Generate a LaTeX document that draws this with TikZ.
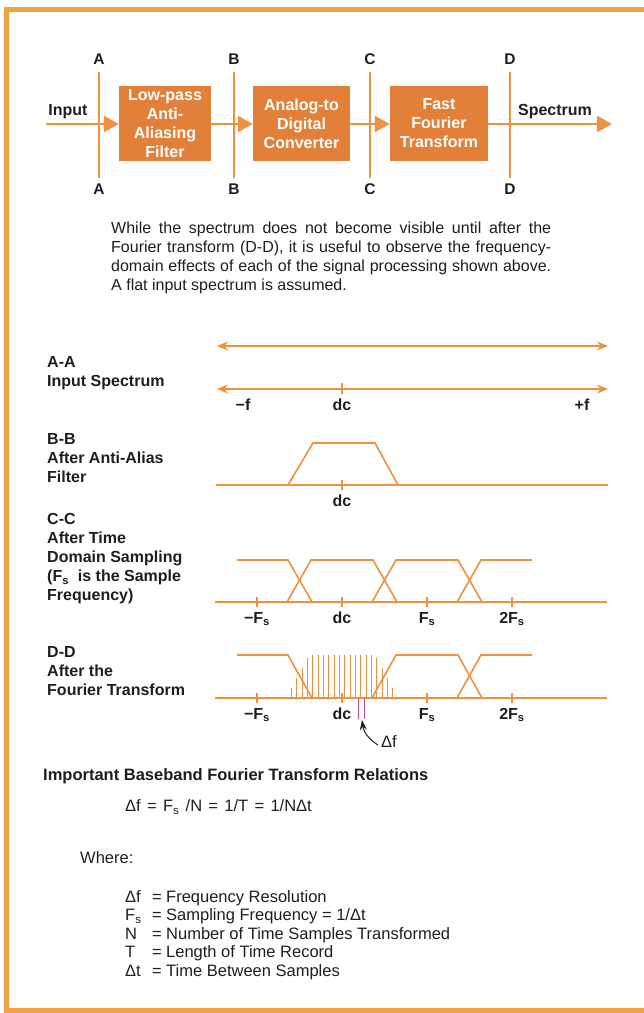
\documentclass[tikz,border=0pt]{standalone}
\usepackage{fontspec}
\setmainfont{Liberation Sans}
\usetikzlibrary{arrows.meta}

\definecolor{boxorange}{HTML}{E2803A}
\definecolor{lineorange}{HTML}{F0913F}
\definecolor{frameorange}{HTML}{F4A044}
\definecolor{ink}{HTML}{1E1E1E}
\definecolor{dfpink}{HTML}{C8507A}

\tikzset{
  block/.style={fill=boxorange, text=white, font=\fontsize{16}{19}\selectfont\bfseries,
    align=center, minimum height=75pt, inner sep=0pt},
  flow/.style={draw=lineorange, line width=2.4pt, -{Triangle[length=15pt,width=16pt]}},
  cut/.style={draw=lineorange, line width=1.2pt},
  cutlbl/.style={text=ink, font=\fontsize{15.5}{16}\selectfont\bfseries, inner sep=0pt, anchor=base},
  lbl/.style={text=ink, font=\fontsize{16}{19}\selectfont\bfseries, inner sep=0pt},
  txt/.style={text=ink, font=\fontsize{16.5}{18.5}\selectfont, inner sep=0pt},
  spec/.style={draw=lineorange, line width=1.6pt},
  axis/.style={draw=lineorange, line width=1.6pt, {Stealth[length=11pt,width=9pt]}-{Stealth[length=11pt,width=9pt]}},
  tickmark/.style={draw=lineorange, line width=1.2pt},
  sample/.style={draw=lineorange, line width=0.8pt},
}

\begin{document}
\begin{tikzpicture}[x=1pt, y=-1pt]
  \useasboundingbox (0,0) rectangle (644,1013);
  \draw[frameorange, line width=5pt] (644,9.5) -- (6,9.5) -- (6,1010.5) -- (644,1010.5);

  % signal chain
  \node[block, minimum width=92pt] (lpf) at (165,123.5) {Low-pass\\Anti-\\Aliasing\\Filter};
  \node[block, minimum width=97pt] (adc) at (301.5,123.5) {Analog-to\\Digital\\Converter};
  \node[block, minimum width=98pt] (fft) at (439,123.5) {Fast\\Fourier\\Transform};
  \coordinate (in) at (46,124);
  \coordinate (out) at (612,124);
  \node[lbl, anchor=base] (inlbl) at (68,115) {Input};
  \node[lbl, anchor=base] (outlbl) at (555,115) {Spectrum};

  \draw[flow] (in) -- (lpf.west |- in);
  \draw[flow] (lpf.east |- in) -- (adc.west |- in);
  \draw[flow] (adc.east |- in) -- (fft.west |- in);
  \draw[flow] (fft.east |- in) -- (out);

  \foreach \n/\x in {A/99, B/234, C/370, D/510} {
    \node[cutlbl] (\n top) at (\x,64) {\n};
    \node[cutlbl] (\n bot) at (\x,194) {\n};
    \draw[cut] (\x,72) -- (\x,178);
  }

  \node[txt, font=\fontsize{16}{19}\selectfont, anchor=north west, text width=440pt, align=justify] (note) at (111,222)
    {While the spectrum does not become visible until after the\linebreak
     Fourier transform (D-D), it is useful to observe the frequency-\linebreak
     domain effects of each of the signal processing shown above.\linebreak
     A flat input spectrum is assumed.};

  % A-A
  \node[lbl, anchor=north west, align=left] (aa) at (47,356.5) {A-A\\Input Spectrum};
  \draw[axis] (217,346) -- (608,346);
  \draw[axis] (217,389) -- (608,389);
  \draw[tickmark] (342,383) -- (342,394);
  \node[lbl, anchor=base] (aneg) at (243,410) {−f};
  \node[lbl, anchor=base] (adc0) at (342,410) {dc};
  \node[lbl, anchor=base] (apos) at (582,410) {+f};

  % B-B
  \node[lbl, anchor=north west, align=left] (bb) at (47,433.5) {B-B\\After Anti-Alias\\Filter};
  \draw[spec] (216,485) -- (608,485);
  \draw[spec] (288,485) -- (313,443) -- (375,443) -- (398,485);
  \draw[tickmark] (342,480) -- (342,490);
  \node[lbl, anchor=base] (bdc0) at (342,506) {dc};

  % C-C
  \node[lbl, anchor=north west, align=left] (cc) at (47,513.5)
    {C-C\\After Time\\Domain Sampling\\(F\textsubscript{s}\ \ is the Sample\\Frequency)};
  \begin{scope}
    \clip (237,540) rectangle (532,610);
    \foreach \c in {257,342,427,512}
      \draw[spec] (\c-55,602) -- (\c-31,560) -- (\c+31,560) -- (\c+55,602);
  \end{scope}
  \draw[spec] (215,602) -- (607,602);
  \foreach \c/\t in {257/−F\textsubscript{s}, 342/dc, 427/F\textsubscript{s}, 512/2F\textsubscript{s}} {
    \draw[tickmark] (\c,597) -- (\c,607);
    \node[lbl, anchor=base] (c\c) at (\c,623) {\t};
  }

  % D-D
  \node[lbl, anchor=north west, align=left] (dd) at (47,646.5) {D-D\\After the\\Fourier Transform};
  \begin{scope}
    \clip (237,640) rectangle (532,705);
    \foreach \c in {257,427,512}
      \draw[spec] (\c-55,698) -- (\c-31,655) -- (\c+31,655) -- (\c+55,698);
  \end{scope}
  \foreach \k in {0,...,19} {
    \pgfmathsetmacro\sx{291.3+5.33*\k}
    \pgfmathsetmacro\sy{max(655,698-43*(\sx-286)/23,698-43*(398-\sx)/23)}
    \draw[sample] (\sx,698) -- (\sx,\sy);
  }
  \draw[spec] (215,698) -- (607,698);
  \foreach \c/\t in {257/−F\textsubscript{s}, 342/dc, 427/F\textsubscript{s}, 512/2F\textsubscript{s}} {
    \draw[tickmark] (\c,693) -- (\c,703);
    \node[lbl, anchor=base] (d\c) at (\c,719) {\t};
  }
  \draw[dfpink, line width=0.8pt] (358.8,698) -- (358.8,719);
  \draw[dfpink, line width=0.8pt] (364.3,698) -- (364.3,719);
  \node[txt, anchor=base west] (dflbl) at (381,747) {Δf};
  \coordinate (dftip) at (362,720);
  \draw[ink, line width=1pt, -{Stealth[length=10pt,width=7pt]}] ([xshift=-3pt,yshift=-4pt]dflbl.west) to[bend left=25] (dftip);

  % relations
  \node[lbl, font=\fontsize{16.5}{19}\selectfont\bfseries, anchor=base west] (rel) at (43,780)
    {Important Baseband Fourier Transform Relations};
  \node[txt, anchor=base west] (eq) at (125,811.5)
    {\spaceskip=6.3pt Δf = F\textsubscript{s} /N = 1/T = 1/NΔt};
  \node[txt, anchor=base west] (where) at (80,863) {Where:};
  \node[txt, anchor=north west] (defs) at (125,889)
    {\begin{tabular}{@{}p{27pt}@{}p{14pt}@{}l@{}}
      Δf & = & Frequency Resolution\\
      F\textsubscript{s} & = & Sampling Frequency = 1/Δt\\
      N & = & Number of Time Samples Transformed\\
      T & = & Length of Time Record\\
      Δt & = & Time Between Samples
    \end{tabular}};
\end{tikzpicture}
\end{document}
